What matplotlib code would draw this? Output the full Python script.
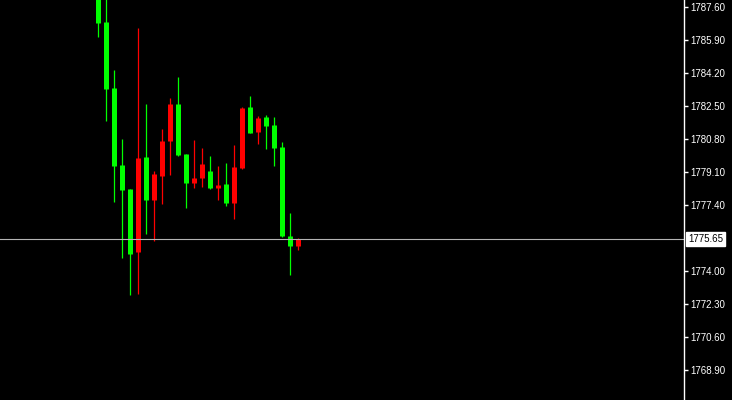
import numpy as np
import matplotlib
matplotlib.use("Agg")
import matplotlib.pyplot as plt

# OHLC (one bar per index)
opens = [1788.60, 1786.84, 1783.44, 1779.47, 1778.23, 1775.00, 1779.88, 1777.68, 1778.92,
         1780.72, 1782.63, 1780.04, 1778.56, 1778.81, 1779.16, 1778.30, 1778.49, 1777.53,
         1779.31, 1782.46, 1781.19, 1781.94, 1781.53, 1780.40, 1775.82, 1775.31]
highs = [1789.20, 1788.30, 1784.37, 1780.81, 1778.23, 1786.53, 1782.61, 1779.14, 1781.33,
         1782.92, 1784.01, 1780.04, 1780.76, 1780.35, 1779.93, 1779.42, 1779.57, 1780.50,
         1782.46, 1783.03, 1782.00, 1782.05, 1781.94, 1780.66, 1776.99, 1775.70]
lows = [1786.08, 1781.75, 1777.58, 1774.69, 1772.78, 1772.83, 1775.93, 1775.57, 1777.47,
        1778.95, 1779.93, 1777.27, 1778.30, 1778.35, 1778.25, 1777.68, 1777.37, 1776.70,
        1779.26, 1781.10, 1780.57, 1780.31, 1779.43, 1775.77, 1773.81, 1775.10]
closes = [1786.81, 1783.40, 1779.43, 1778.20, 1774.90, 1779.83, 1777.68, 1779.02, 1780.71,
          1782.63, 1779.99, 1778.56, 1778.81, 1779.52, 1778.30, 1778.44, 1777.53, 1779.37,
          1782.41, 1781.13, 1781.89, 1781.50, 1780.36, 1775.82, 1775.31, 1775.65]

price_ticks = [1787.60, 1785.90, 1784.20, 1782.50, 1780.80, 1779.10, 1777.40,
               1774.00, 1772.30, 1770.60, 1768.90]
last_price = 1775.65

UP = "#ff0000"     # close above open
DOWN = "#00ff00"   # close below open


def main():
    fig = plt.figure(figsize=(7.32, 4.0), dpi=100, facecolor="black")
    ax = fig.add_axes([0, 0, 684 / 732, 1])
    ax.set_facecolor("black")

    o = np.array(opens)
    c = np.array(closes)
    x = np.arange(len(o))
    colors = [UP if cc > oo else DOWN for oo, cc in zip(o, c)]

    # wicks
    ax.vlines(x, lows, highs, colors=colors, linewidth=0.9)
    # bodies: thick butt-capped segments (5 px wide)
    body_lo = np.minimum(o, c)
    body_hi = np.maximum(np.maximum(o, c), body_lo + 0.06)
    bodies = ax.vlines(x, body_lo, body_hi, colors=colors, linewidth=3.6)
    bodies.set_capstyle("butt")

    ax.axhline(last_price, color="#b4b4b4", linewidth=0.8)

    ax.set_xlim(-12.19, 73.31)
    ax.set_ylim(1767.353, 1787.976)

    for s in ["top", "bottom", "left"]:
        ax.spines[s].set_visible(False)
    ax.spines["right"].set_color("white")
    ax.spines["right"].set_linewidth(1)
    ax.set_xticks([])
    ax.yaxis.tick_right()
    ax.set_yticks(price_ticks)
    ax.set_yticklabels([f"{p:.2f}" for p in price_ticks])
    ax.tick_params(axis="y", colors="white", length=3, width=1, pad=1.5,
                   labelsize=7, labelfontfamily="Liberation Sans")

    # current price tag, just right of the axis line
    ax.text(1.006, last_price, f"{last_price:.2f}", transform=ax.get_yaxis_transform(),
            ha="left", va="center", fontsize=7, family="Liberation Sans",
            color="black", clip_on=False,
            bbox=dict(boxstyle="square,pad=0.22", facecolor="white", edgecolor="white"))

    fig.savefig("out.png", dpi=100, facecolor="black")
    plt.close(fig)


if __name__ == "__main__":
    main()
